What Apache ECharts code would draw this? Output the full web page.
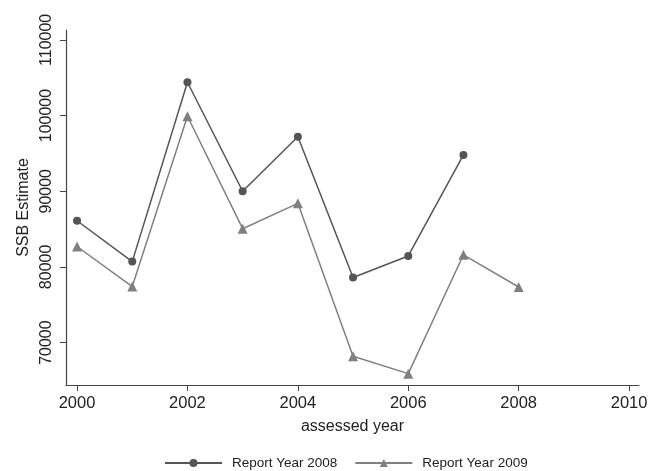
<!DOCTYPE html>
<html><head><meta charset="utf-8">
<script src="https://cdn.jsdelivr.net/npm/echarts@6/dist/echarts.min.js"></script>
<style>html,body{margin:0;padding:0;background:#fff}#c{width:658px;height:471px}</style>
</head><body><div id="c"></div>
<script>
const years2008 = [2000, 2001, 2002, 2003, 2004, 2005, 2006, 2007];
const ssb2008 = [86100, 80700, 104400, 90000, 97200, 78600, 81450, 94800];
const years2009 = [2000, 2001, 2002, 2003, 2004, 2005, 2006, 2007, 2008];
const ssb2009 = [82700, 77400, 99900, 85050, 88400, 68200, 65900, 81600, 77350];
const xTicks = [2000, 2002, 2004, 2006, 2008, 2010];
const yTicks = [70000, 80000, 90000, 100000, 110000];

const chart = echarts.init(document.getElementById('c'), null, {renderer: 'canvas'});
const font = 'Liberation Sans, Arial, sans-serif';
chart.setOption({
  animation: false,
  backgroundColor: '#fff',
  grid: {left: 66, right: 19, top: 30, bottom: 86, containLabel: false},
  xAxis: {
    type: 'value', min: 1999.8, max: 2010.18,
    name: 'assessed year', nameLocation: 'middle', nameGap: 34, nameMoveOverlap: false,
    nameTextStyle: {fontFamily: font, fontSize: 16, color: '#222'},
    axisLine: {show: true, lineStyle: {color: '#444', width: 1.2}},
    axisTick: {show: true, length: 6, inside: false, customValues: xTicks, lineStyle: {color: '#444'}},
    axisLabel: {customValues: xTicks, fontFamily: font, fontSize: 16.5, color: '#222', margin: 10,
      formatter: v => String(v)},
    splitLine: {show: false}
  },
  yAxis: {
    type: 'value', min: 64400, max: 111300,
    name: 'SSB Estimate', nameLocation: 'middle', nameGap: 34, nameRotate: 90, nameMoveOverlap: false,
    nameTextStyle: {fontFamily: font, fontSize: 16, color: '#222'},
    axisLine: {show: true, lineStyle: {color: '#444', width: 1.2}},
    axisTick: {show: true, length: 6, customValues: yTicks, lineStyle: {color: '#444'}},
    axisLabel: {customValues: yTicks, rotate: 90, fontFamily: font, fontSize: 16, color: '#222', margin: 11,
      formatter: v => String(v)},
    splitLine: {show: false}
  },
  legend: {
    top: 451, left: 159, itemGap: 17, itemWidth: 57, itemHeight: 10,
    textStyle: {fontFamily: font, fontSize: 13.5, color: '#222', padding: [0, 0, 0, 5]},
    data: ['Report Year 2008', 'Report Year 2009']
  },
  series: [
    {name: 'Report Year 2008', type: 'line', data: years2008.map((y, i) => [y, ssb2008[i]]),
     symbol: 'circle', symbolSize: 8, color: '#555555', lineStyle: {width: 1.5, color: '#555555'}},
    {name: 'Report Year 2009', type: 'line', data: years2009.map((y, i) => [y, ssb2009[i]]),
     symbol: 'triangle', symbolSize: 10, color: '#808080', lineStyle: {width: 1.5, color: '#808080'}}
  ]
});
</script></body></html>
